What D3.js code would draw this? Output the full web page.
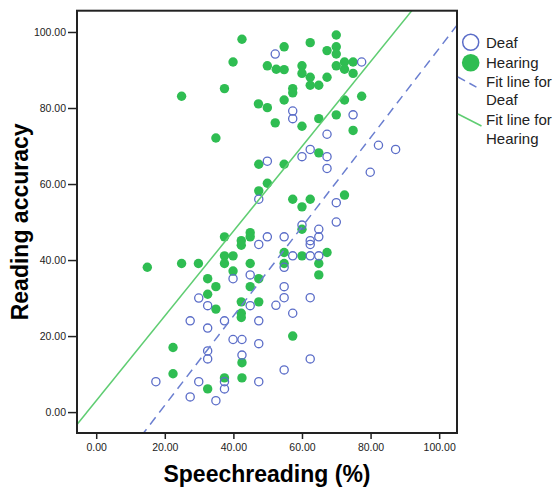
<!DOCTYPE html>
<html>
<head>
<meta charset="utf-8">
<script src="https://cdn.jsdelivr.net/npm/d3@7"></script>
<style>
  body { margin: 0; background: #fff; }
  text { font-family: Arial, "Liberation Sans", sans-serif; }
</style>
</head>
<body>
<div class="chart"></div>
<script>
// Deaf group: [speechreading %, reading accuracy]
const deafPoints = [
  [52.2, 94.2], [49.9, 66.0], [47.4, 56.0], [57.3, 79.2], [57.3, 77.2], [74.9, 78.2],
  [67.3, 73.1], [82.3, 70.2], [87.3, 69.1], [62.4, 69.1], [60.0, 67.2], [67.3, 67.2],
  [67.3, 64.1], [79.9, 63.1], [77.4, 92.1], [70.0, 55.1], [70.0, 50.0], [47.4, 44.1],
  [49.9, 46.1], [39.9, 35.1], [44.9, 36.1], [29.9, 30.0], [32.5, 28.0], [44.9, 28.0],
  [27.4, 24.0], [32.5, 22.1], [37.4, 24.0], [47.4, 24.0], [39.9, 19.1], [42.5, 19.1],
  [47.4, 18.0], [32.5, 16.1], [32.5, 14.0], [42.5, 15.0], [17.4, 8.0], [29.9, 8.0],
  [37.4, 8.0], [47.4, 8.0], [37.4, 6.1], [27.4, 4.0], [34.9, 3.0], [60.0, 49.2],
  [64.9, 48.1], [64.9, 46.1], [62.4, 45.1], [62.4, 44.1], [54.8, 46.1], [57.3, 41.1],
  [62.4, 41.1], [64.9, 41.1], [54.8, 38.1], [54.8, 33.0], [54.8, 30.1], [62.4, 30.1],
  [52.4, 28.1], [57.3, 26.0], [62.4, 14.0], [54.8, 11.1]
];

// Hearing group
const hearingPoints = [
  [42.5, 98.1], [39.9, 92.1], [49.9, 91.1], [52.5, 90.2], [37.4, 85.1], [24.9, 83.1],
  [47.3, 81.1], [49.9, 80.1], [52.2, 76.1], [34.9, 72.1], [47.4, 65.2], [49.9, 60.2],
  [47.4, 58.2], [54.8, 96.1], [62.4, 97.2], [70.0, 99.2], [70.0, 96.1], [67.3, 95.1],
  [70.0, 94.2], [54.8, 90.1], [60.0, 91.1], [60.0, 89.1], [62.4, 88.1], [62.4, 86.0],
  [64.9, 86.0], [67.3, 88.1], [70.0, 91.1], [72.4, 92.1], [72.4, 90.2], [74.9, 92.1],
  [74.9, 89.1], [57.3, 85.1], [57.3, 84.0], [54.8, 82.1], [60.0, 75.2], [64.9, 77.2],
  [70.0, 78.2], [72.4, 82.1], [77.4, 83.1], [74.9, 74.1], [64.9, 68.2], [54.8, 65.2],
  [57.3, 56.0], [60.0, 54.0], [62.4, 56.0], [72.4, 57.1], [37.4, 46.1], [44.9, 47.2],
  [44.9, 46.1], [42.3, 45.1], [42.3, 43.9], [37.4, 41.1], [39.9, 41.1], [37.4, 39.1],
  [44.9, 39.1], [39.9, 37.1], [14.9, 38.1], [24.9, 39.1], [29.8, 39.1], [47.4, 35.1],
  [32.5, 35.1], [34.9, 33.0], [44.9, 33.0], [32.5, 31.0], [34.9, 27.1], [42.3, 29.0],
  [47.4, 29.0], [42.3, 26.0], [42.3, 24.9], [22.4, 17.0], [42.5, 13.0], [22.4, 10.1],
  [37.4, 9.0], [42.5, 9.0], [32.5, 6.1], [54.8, 42.0], [60.0, 41.1], [67.3, 42.0],
  [54.8, 39.1], [64.9, 39.1], [64.9, 36.1], [57.3, 20.0], [60.0, 48.1]
];

// fit lines: [intercept, slope]
const deafFit = [-21.7, 1.174];
const hearingFit = [3.0, 1.115];

const xTicks = [0, 20, 40, 60, 80, 100];
const yTicks = [0, 20, 40, 60, 80, 100];
const legendLabels = ["Deaf", "Hearing", ["Fit line for", "Deaf"], ["Fit line for", "Hearing"]];

const width = 557, height = 488;
const plot = {left: 77, right: 457, top: 10.7, bottom: 433};
const deafColor = "#5b6dc8", hearingColor = "#2fbd52";
const deafLine = "#6b7fd0", hearingLine = "#5fcd72";

const svg = d3.select('.chart')
  .append('svg')
  .attr('width', width)
  .attr('height', height);

const xScale = d3.scaleLinear().domain([-5.6, 105.2]).range([plot.left, plot.right]);
const yScale = d3.scaleLinear().domain([-5.5, 105.6]).range([plot.bottom, plot.top]);

svg.append("clipPath").attr("id", "clip")
  .append("rect")
  .attr("x", plot.left).attr("y", plot.top)
  .attr("width", plot.right - plot.left).attr("height", plot.bottom - plot.top);

// axes
const xAxis = d3.axisBottom(xScale).tickValues(xTicks).tickFormat(d3.format(".2f"))
  .tickSize(6).tickPadding(5);
svg.append("g")
  .attr("class", "axis x-axis")
  .attr("transform", `translate(0, ${plot.bottom})`)
  .call(xAxis)
  .call(g => g.select(".domain").remove());

const yAxis = d3.axisLeft(yScale).tickValues(yTicks).tickFormat(d3.format(".2f"))
  .tickSize(9).tickPadding(2);
svg.append("g")
  .attr("class", "axis y-axis")
  .attr("transform", `translate(${plot.left}, 0)`)
  .call(yAxis)
  .call(g => g.select(".domain").remove());

svg.selectAll(".axis text").style("font-size", "10.5px").style("fill", "#222");
svg.selectAll(".axis line").style("stroke", "#222").style("stroke-width", 1.5);

// points
const pts = svg.append("g").attr("clip-path", "url(#clip)");
pts.selectAll("circle.hearing")
  .data(hearingPoints)
  .enter()
  .append("circle")
    .attr("class", "hearing")
    .attr("cx", d => xScale(d[0]))
    .attr("cy", d => yScale(d[1]))
    .attr("r", 4.7)
    .style("fill", hearingColor);

pts.selectAll("circle.deaf")
  .data(deafPoints)
  .enter()
  .append("circle")
    .attr("class", "deaf")
    .attr("cx", d => xScale(d[0]))
    .attr("cy", d => yScale(d[1]))
    .attr("r", 4.1)
    .style("fill", "none")
    .style("stroke", deafColor)
    .style("stroke-width", 1.3);

// fit lines
const xd = xScale.domain();
const fitLine = d3.line().x(d => xScale(d[0])).y(d => yScale(d[1]));
pts.append("path")
  .datum(xd.map(x => [x, hearingFit[0] + hearingFit[1] * x]))
  .attr("d", fitLine)
  .style("fill", "none")
  .style("stroke", hearingLine)
  .style("stroke-width", 1.5);
pts.append("path")
  .datum(xd.map(x => [x, deafFit[0] + deafFit[1] * x]))
  .attr("d", fitLine)
  .style("fill", "none")
  .style("stroke", deafLine)
  .style("stroke-width", 1.5)
  .style("stroke-dasharray", "9,6");

// frame
svg.append("rect")
  .attr("x", plot.left).attr("y", plot.top)
  .attr("width", plot.right - plot.left).attr("height", plot.bottom - plot.top)
  .style("fill", "none")
  .style("stroke", "#222")
  .style("stroke-width", 2);

// axis titles
svg.append("text")
  .attr("x", (plot.left + plot.right) / 2)
  .attr("y", 481.5)
  .attr("text-anchor", "middle")
  .style("font-size", "23px")
  .style("font-weight", "bold")
  .text("Speechreading (%)");

svg.append("text")
  .attr("transform", `translate(28, ${(plot.top + plot.bottom) / 2}) rotate(-90)`)
  .attr("text-anchor", "middle")
  .style("font-size", "23px")
  .style("font-weight", "bold")
  .text("Reading accuracy");

// legend
const lg = svg.append("g");
lg.append("circle").attr("cx", 470.7).attr("cy", 42.3).attr("r", 8)
  .style("fill", "#fff").style("stroke", deafColor).style("stroke-width", 1.5);
lg.append("circle").attr("cx", 470.7).attr("cy", 62.7).attr("r", 8.8)
  .style("fill", hearingColor);
lg.append("line").attr("x1", 458).attr("y1", 77).attr("x2", 479).attr("y2", 88.5)
  .style("stroke", deafLine).style("stroke-width", 1.5).style("stroke-dasharray", "8,5");
lg.append("line").attr("x1", 458).attr("y1", 114).attr("x2", 481.5).attr("y2", 126)
  .style("stroke", hearingLine).style("stroke-width", 1.5);

const legendY = [47.5, 67.5, 86.5, 125];
legendLabels.forEach((lab, i) => {
  const t = lg.append("text")
    .attr("x", 486)
    .attr("y", legendY[i])
    .style("font-size", "15px")
    .style("fill", "#222");
  const lines = Array.isArray(lab) ? lab : [lab];
  lines.forEach((s, j) => {
    t.append("tspan").attr("x", 486).attr("dy", j === 0 ? 0 : 18.5).text(s);
  });
});
</script>
</body>
</html>
